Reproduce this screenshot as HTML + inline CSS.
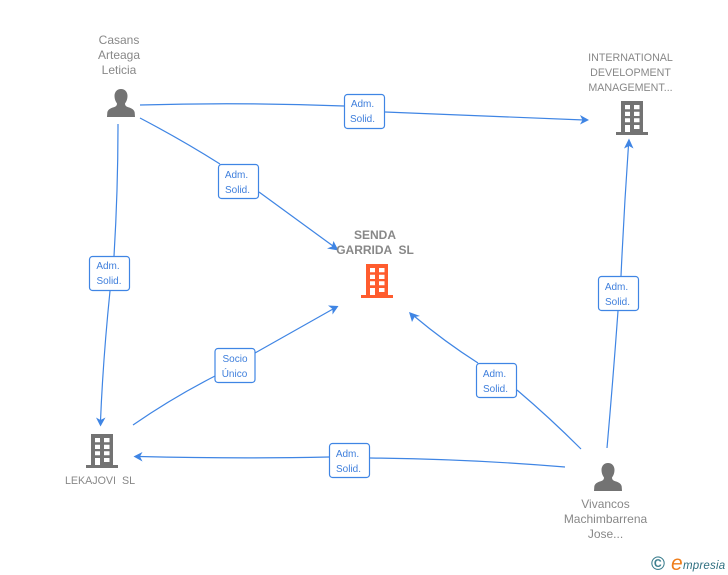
<!DOCTYPE html>
<html>
<head>
<meta charset="utf-8">
<style>
html,body{margin:0;padding:0;background:#fff;width:728px;height:575px;overflow:hidden}
svg{display:block}
text{font-family:"Liberation Sans",Arial,sans-serif}
.n{font-size:12px;fill:#888;text-anchor:middle}
.u{font-size:10.7px;fill:#888;text-anchor:middle}
.b{font-size:10px;fill:#3f7fdc;text-anchor:middle}
.l{fill:none;stroke:#3f85e4;stroke-width:1.2}
.box{fill:#fff;stroke:#3f85e4;stroke-width:1.2}
.ar{fill:#3f85e4}
</style>
</head>
<body>
<svg width="728" height="575" viewBox="0 0 728 575" xmlns="http://www.w3.org/2000/svg">
<defs>
<symbol id="bld" viewBox="0 0 32 34" overflow="visible">
<path fill-rule="evenodd" d="M5 0H27V31H32V34H0V31H5ZM9 4V8.300H14V4ZM18 4V8.300H23.500V4ZM9 10.700V15H14V10.700ZM18 10.700V15H23.500V10.700ZM9 17.300V21.300H14V17.300ZM18 17.300V21.300H23.500V17.300ZM9 24V31H14V24ZM18 24V28H23.500V24Z"/>
</symbol>
<symbol id="per" viewBox="0 0 28 28" overflow="visible">
<path fill="#737373" d="M14 0C18 0 20.500 3 20.500 7C20.500 10 19.500 12.500 18 14.500C18 16 18.500 17 20 17.800C23.500 19 27 20 27.700 23.500L28 28H0L.3 23.500C1 20 4.500 19 8 17.800C9.500 17 10 16 10 14.500C8.500 12.500 7.500 10 7.500 7C7.500 3 10 0 14 0Z"/>
</symbol>
</defs>

<!-- connectors -->
<path class="l" d="M140 105Q240 102 344 106"/>
<path class="l" d="M385 112Q480 116 584 120"/>
<path class="ar" d="M589 120L580 115L582.500 120L580 124.500Z"/>

<path class="l" d="M140 118Q182 140 220 164"/>
<path class="l" d="M259 192L333 246"/>
<path class="ar" d="M338.500 250.500L333.500 241L332 246.500L327 248.500Z"/>

<path class="l" d="M118 124Q118 190 114 256"/>
<path class="l" d="M110 291Q103 360 100.500 421"/>
<path class="ar" d="M100.500 426.500L105.500 417.500L100.500 420L96 417.500Z"/>

<path class="l" d="M133 425Q172 398 215 376"/>
<path class="l" d="M255 353L333 309"/>
<path class="ar" d="M338.500 306L328 305.500L332.500 309L332.500 314.500Z"/>

<path class="l" d="M607 448Q613 380 618 311"/>
<path class="l" d="M621 276Q624 210 628.500 145"/>
<path class="ar" d="M629 138.500L624 148.500L629 146L633.500 148.500Z"/>

<path class="l" d="M581 449Q550 418 517 390"/>
<path class="l" d="M478 363Q445 342 414 316"/>
<path class="ar" d="M409 312L412 322L414.500 317L420 316Z"/>

<path class="l" d="M565 467Q470 459 370 458"/>
<path class="l" d="M329 457Q240 459 139 456.500"/>
<path class="ar" d="M133.500 456.500L142.500 461.500L140 456.500L142.500 452Z"/>

<!-- edge labels -->
<rect class="box" x="344.500" y="94.500" width="40" height="34" rx="3"/>
<text class="b" x="362.500" y="107">Adm.</text><text class="b" x="362.500" y="122">Solid.</text>

<rect class="box" x="218.500" y="164.500" width="40" height="34" rx="3"/>
<text class="b" x="236.500" y="178">Adm.</text><text class="b" x="237.500" y="193">Solid.</text>

<rect class="box" x="89.500" y="256.500" width="40" height="34" rx="3"/>
<text class="b" x="108" y="269">Adm.</text><text class="b" x="109" y="284">Solid.</text>

<rect class="box" x="215" y="348.500" width="40" height="34" rx="3"/>
<text class="b" x="235" y="362">Socio</text><text class="b" x="234.500" y="377">Único</text>

<rect class="box" x="598.500" y="276.500" width="40" height="34" rx="3"/>
<text class="b" x="616.500" y="290">Adm.</text><text class="b" x="617.500" y="305">Solid.</text>

<rect class="box" x="476.500" y="363.500" width="40" height="34" rx="3"/>
<text class="b" x="494.500" y="377">Adm.</text><text class="b" x="495.500" y="392">Solid.</text>

<rect class="box" x="329.500" y="443.500" width="40" height="34" rx="3"/>
<text class="b" x="347.500" y="457">Adm.</text><text class="b" x="348.500" y="472">Solid.</text>

<!-- nodes -->
<text class="n" x="119" y="44">Casans</text>
<text class="n" x="119" y="59">Arteaga</text>
<text class="n" x="119" y="74">Leticia</text>
<use href="#per" x="107" y="89" width="28" height="28"/>

<text class="u" x="630.500" y="61">INTERNATIONAL</text>
<text class="u" x="630.500" y="76">DEVELOPMENT</text>
<text class="u" x="630.500" y="91">MANAGEMENT...</text>
<use href="#bld" x="616" y="101" width="32" height="34" fill="#737373"/>

<text x="375" y="239" text-anchor="middle" style="font-size:12px;font-weight:bold;fill:#888">SENDA</text>
<text x="375" y="254" text-anchor="middle" xml:space="preserve" style="font-size:12px;font-weight:bold;fill:#888;white-space:pre">GARRIDA  SL</text>
<use href="#bld" x="361" y="264" width="32" height="34" fill="#ff5c2e"/>

<use href="#bld" x="86" y="434" width="32" height="34" fill="#737373"/>
<text class="u" x="100" y="484" xml:space="preserve" style="white-space:pre">LEKAJOVI  SL</text>

<use href="#per" x="594" y="463" width="28" height="28"/>
<text class="n" x="605.500" y="508">Vivancos</text>
<text class="n" x="605.500" y="523">Machimbarrena</text>
<text class="n" x="605.500" y="538">Jose...</text>

<!-- logo -->
<text x="658" y="570" text-anchor="middle" style="font-size:19px;font-weight:bold;fill:#3d7f8f">©</text>
<text x="671" y="570" style="font-style:italic;font-size:21px;fill:#ef7d1a">e</text>
<text x="683" y="569" style="font-style:italic;font-size:11.500px;letter-spacing:.2px;fill:#2f6f80">mpresia</text>
</svg>
</body>
</html>
